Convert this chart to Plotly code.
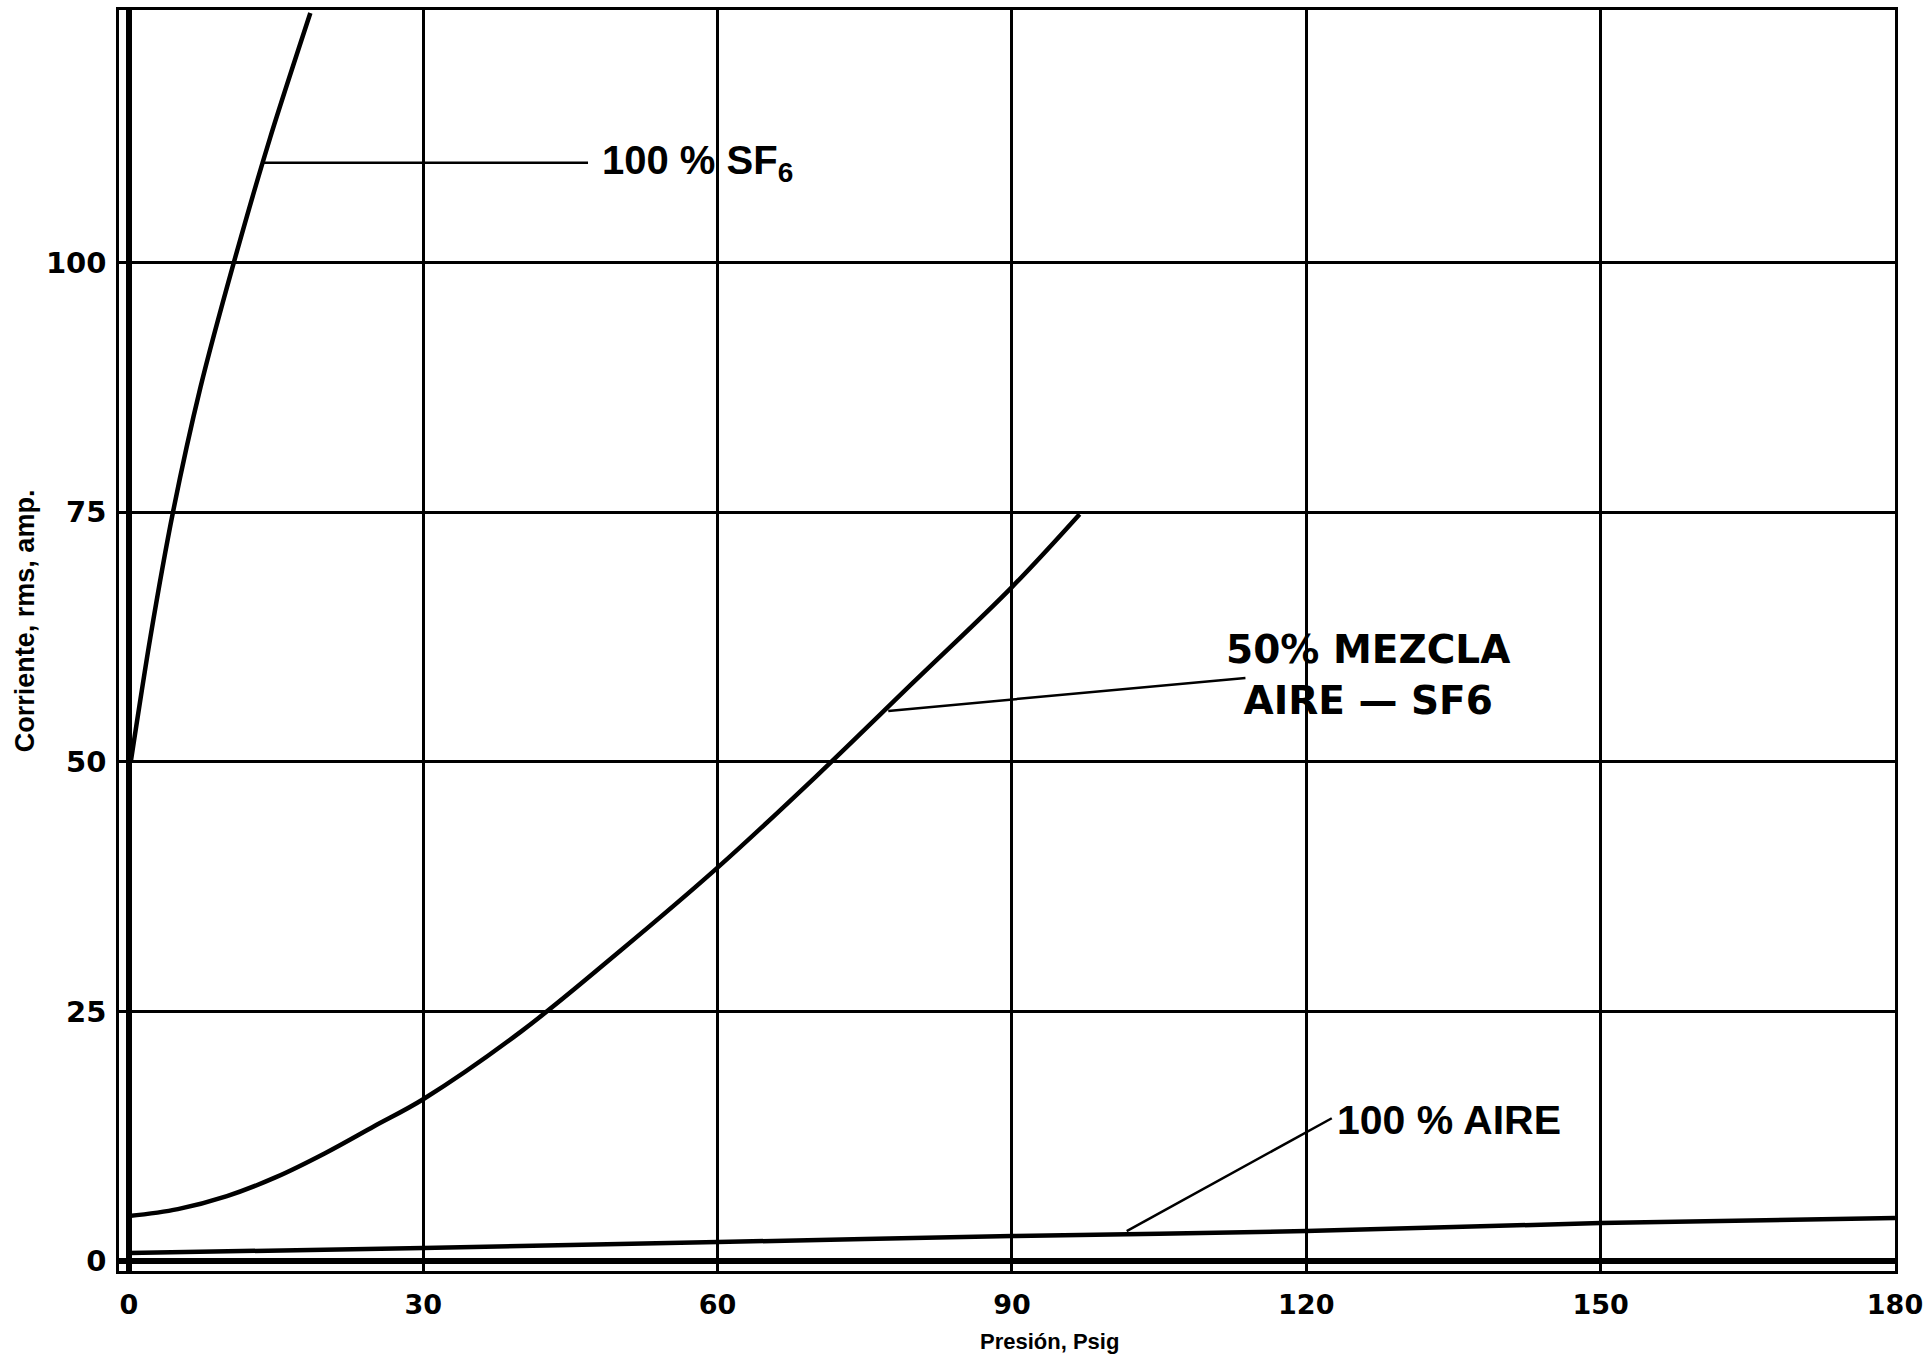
import plotly.graph_objects as go

# ---- data ----
x_ticks = [0, 30, 60, 90, 120, 150, 180]
y_ticks = [0, 25, 50, 75, 100]

sf6_x = [0.2, 2.2, 4.5, 7.3, 10.7, 14.4, 18.5]
sf6_y = [50, 62.5, 75, 87.5, 100, 112.5, 125]

mezcla_x = [0, 5, 10, 15, 20, 25, 30, 40, 50, 60, 70, 80, 90, 96.9]
mezcla_y = [4.5, 5.2, 6.5, 8.4, 10.8, 13.5, 16.2, 23.0, 31.0, 39.4, 48.5, 58.0, 67.5, 74.8]

aire_x = [0, 30, 60, 90, 120, 150, 180]
aire_y = [0.8, 1.3, 1.9, 2.5, 3.0, 3.8, 4.3]

# leader lines (from curve to label)
sf6_leader_x, sf6_leader_y = [13.6, 46.8], [110, 110]
mezcla_leader_x, mezcla_leader_y = [77.4, 113.8], [55.1, 58.4]
aire_leader_x, aire_leader_y = [101.7, 122.6], [3.0, 14.3]

labels = ["100 % SF<sub>6</sub>", "50% MEZCLA<br>AIRE — SF6", "100 % AIRE"]
label_x = [48.0, 126.3, 122.9]
label_y = [110, 58.7, 14.1]

x_title = "Presión, Psig"
y_title = "Corriente, rms, amp."

fig = go.Figure()

curve = dict(color="black", width=4.5)
fig.add_trace(go.Scatter(x=sf6_x, y=sf6_y, mode="lines", line=dict(**curve, shape="spline", smoothing=0.8), showlegend=False))
fig.add_trace(go.Scatter(x=mezcla_x, y=mezcla_y, mode="lines", line=dict(**curve, shape="spline", smoothing=1.0), showlegend=False))
fig.add_trace(go.Scatter(x=aire_x, y=aire_y, mode="lines", line=dict(**curve, shape="spline", smoothing=0.8), showlegend=False))

leader = dict(color="black", width=2.5)
for lx, ly in [(sf6_leader_x, sf6_leader_y), (mezcla_leader_x, mezcla_leader_y), (aire_leader_x, aire_leader_y)]:
    fig.add_trace(go.Scatter(x=lx, y=ly, mode="lines", line=leader, showlegend=False, hoverinfo="skip"))

lab_fonts = [
    dict(family="Liberation Sans", size=40, color="black", weight="bold"),
    dict(family="DejaVu Sans", size=39, color="black", weight="bold"),
    dict(family="Liberation Sans", size=41, color="black", weight="bold"),
]
anchors = ["left", "center", "left"]
for t, lx, ly, f, a in zip(labels, label_x, label_y, lab_fonts, anchors):
    fig.add_annotation(x=lx, y=ly, text=t, showarrow=False, xanchor=a, yanchor="middle",
                       font=f, align="center")

fig.add_annotation(xref="paper", yref="paper", x=0.524, y=-0.056, text=x_title, showarrow=False,
                   xanchor="center", yanchor="middle",
                   font=dict(family="Liberation Sans", size=22, color="black", weight="bold"))
fig.add_annotation(xref="paper", yref="paper", x=-0.053, y=0.516, text=y_title, showarrow=False,
                   textangle=-90, xanchor="center", yanchor="middle",
                   font=dict(family="Liberation Sans", size=27, color="black", weight="bold"))

xtickfont = dict(family="DejaVu Sans", size=27, color="black", weight="bold")
ytickfont = dict(family="DejaVu Sans", size=29, color="black", weight="bold")
fig.update_xaxes(range=[-1.0, 180], tickvals=x_ticks, ticktext=[str(v) for v in x_ticks],
                 showgrid=True, gridcolor="black", gridwidth=2.5,
                 zeroline=True, zerolinecolor="black", zerolinewidth=6,
                 showline=True, linecolor="black", linewidth=2.5, mirror=True,
                 ticks="", tickfont=xtickfont, ticklabelstandoff=8, automargin=False)
fig.update_yaxes(range=[-1.0, 125.3], tickvals=y_ticks, ticktext=[str(v) for v in y_ticks],
                 showgrid=True, gridcolor="black", gridwidth=2.5,
                 zeroline=True, zerolinecolor="black", zerolinewidth=6,
                 showline=True, linecolor="black", linewidth=2.5, mirror=True,
                 ticks="", tickfont=ytickfont, ticklabelstandoff=4, automargin=False)

fig.update_layout(width=1926, height=1359, margin=dict(l=119, r=31, t=10, b=88),
                  plot_bgcolor="white", paper_bgcolor="white", showlegend=False)

fig.write_html("out.html", config={"displayModeBar": False},
               post_script="document.body.style.margin='0';document.body.style.overflow='hidden';")
